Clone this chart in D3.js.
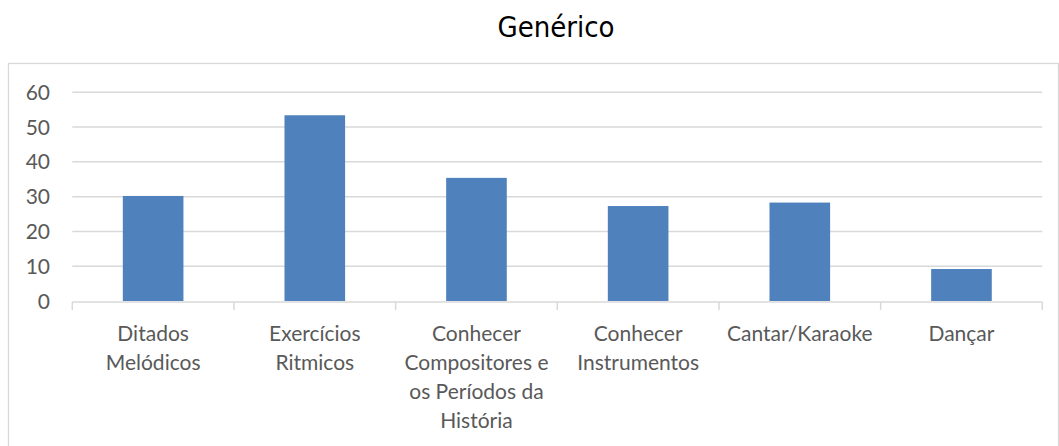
<!DOCTYPE html>
<html>
<head>
<meta charset="utf-8">
<script src="https://cdn.jsdelivr.net/npm/d3@7"></script>
<style>
  body { margin: 0; background: #fff; }
  svg { display: block; }
</style>
</head>
<body>
<div id="chart"></div>
<script>
// chart data
const categories = ["Ditados Melódicos", "Exercícios Ritmicos", "Conhecer Compositores e os Períodos da História",
    "Conhecer Instrumentos", "Cantar/Karaoke", "Dançar"];
const labelLines = [
    ["Ditados", "Melódicos"],
    ["Exercícios", "Ritmicos"],
    ["Conhecer", "Compositores e", "os Períodos da", "História"],
    ["Conhecer", "Instrumentos"],
    ["Cantar/Karaoke"],
    ["Dançar"]
];
const values = [30.2, 53.4, 35.4, 27.3, 28.3, 9.2];
const yTicks = [0, 10, 20, 30, 40, 50, 60];
const title = "Genérico";

const width = 1059;
const height = 446;

const svg = d3.select("#chart")
    .append("svg")
    .attr("width", width)
    .attr("height", height);

// outer chart border
svg.append("rect")
    .attr("x", 8.5)
    .attr("y", 63.5)
    .attr("width", 1050)
    .attr("height", 420)
    .attr("fill", "none")
    .attr("stroke", "#d9d9d9")
    .attr("stroke-width", 1.3);

svg.append("text")
    .attr("x", 556)
    .attr("y", 37)
    .attr("text-anchor", "middle")
    .style("font-family", "'Liberation Sans Narrow', 'DejaVu Sans Condensed', Roboto, sans-serif")
    .style("font-size", "29px")
    .attr("fill", "#000")
    .text(title);

const left = 72.3, right = 1042.3;
const y = d3.scaleLinear().domain([0, 60]).range([301, 92.3]);

const xOuter = d3.scaleBand().domain(categories).range([left, right]).padding(0);
const x = d3.scaleBand().domain(categories).range([left, right])
    .paddingInner(0.625).paddingOuter(0.3125);

// gridlines
svg.append("g")
    .selectAll("line")
    .data(yTicks.filter(d => d > 0))
    .enter()
    .append("line")
    .attr("x1", left)
    .attr("x2", right)
    .attr("y1", d => y(d))
    .attr("y2", d => y(d))
    .attr("stroke", "#d9d9d9")
    .attr("stroke-width", 1.5);

// y labels
svg.append("g")
    .selectAll("text")
    .data(yTicks)
    .enter()
    .append("text")
    .attr("x", 50)
    .attr("y", d => y(d))
    .attr("dy", "0.36em")
    .attr("text-anchor", "end")
    .style("font-family", "Lato, sans-serif")
    .style("font-size", "21px")
    .attr("fill", "#595959")
    .text(d => d);

// bars
svg.append("g")
    .selectAll("rect")
    .data(values)
    .enter()
    .append("rect")
    .attr("x", (d, i) => x(categories[i]))
    .attr("y", d => y(d))
    .attr("width", x.bandwidth())
    .attr("height", d => y(0) - y(d))
    .attr("fill", "#4f81bd");

// x axis line and category boundary ticks
svg.append("line")
    .attr("x1", left)
    .attr("x2", right)
    .attr("y1", y(0) + 1)
    .attr("y2", y(0) + 1)
    .attr("stroke", "#d9d9d9")
    .attr("stroke-width", 1.5);

const bounds = categories.map(c => xOuter(c)).concat([right]);
svg.append("g")
    .selectAll("line")
    .data(bounds)
    .enter()
    .append("line")
    .attr("x1", d => d)
    .attr("x2", d => d)
    .attr("y1", y(0) + 1)
    .attr("y2", y(0) + 9)
    .attr("stroke", "#d9d9d9")
    .attr("stroke-width", 1.5);

// category labels
const labels = svg.append("g")
    .selectAll("text")
    .data(categories)
    .enter()
    .append("text")
    .attr("x", d => xOuter(d) + xOuter.bandwidth() / 2)
    .attr("y", 333)
    .attr("text-anchor", "middle")
    .style("font-family", "Lato, sans-serif")
    .style("font-size", "21px")
    .attr("fill", "#595959");

labels.selectAll("tspan")
    .data((d, i) => labelLines[i])
    .enter()
    .append("tspan")
    .attr("x", function () { return this.parentNode.getAttribute("x"); })
    .attr("dy", (d, i) => i === 0 ? "0.36em" : "29px")
    .text(d => d);
</script>
</body>
</html>
